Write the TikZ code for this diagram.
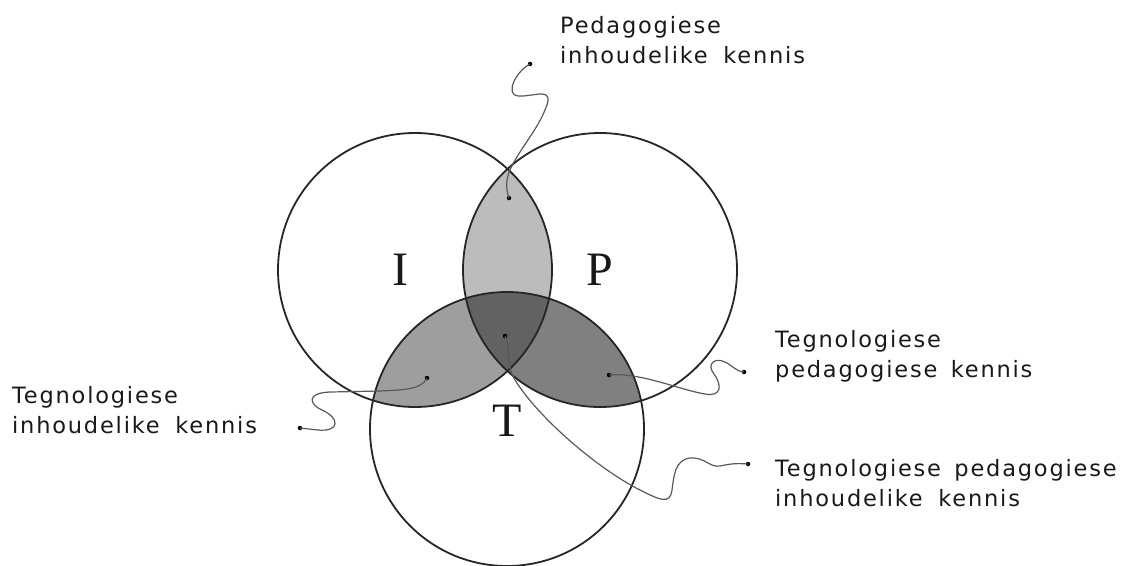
\documentclass[tikz,border=0pt]{standalone}
\usepackage{fontspec}
\newfontfamily\lblfont[LetterSpace=8]{DejaVu Sans}
\newfontfamily\bigfont{Liberation Serif}
\definecolor{fIP}{RGB}{188,188,188}
\definecolor{fIT}{RGB}{158,158,158}
\definecolor{fPT}{RGB}{128,128,128}
\definecolor{fIPT}{RGB}{98,98,98}
\begin{document}
\begin{tikzpicture}[x=1pt,y=-1pt,
  ring/.style={draw=black!85, line width=1.8pt},
  lead/.style={draw=black!65, line width=1.2pt},
  tip/.style={circle, fill=black, inner sep=0pt, minimum size=4.5pt},
  lbl/.style={font=\lblfont\fontsize{22.5}{30}\selectfont, text=black!90, align=left, anchor=base west, inner sep=0pt},
  big/.style={font=\bigfont\fontsize{48}{48}\selectfont, text=black!90, inner sep=0pt}]
\useasboundingbox (0,0) rectangle (1127,565);
\coordinate (cI) at (415,270);
\coordinate (cP) at (600,270);
\coordinate (cT) at (507,429);
\def\R{137}
% shaded overlaps
\begin{scope}\clip (cI) circle (\R); \fill[fIP] (cP) circle (\R); \fill[fIT] (cT) circle (\R); \end{scope}
\begin{scope}\clip (cP) circle (\R); \fill[fPT] (cT) circle (\R); \end{scope}
\begin{scope}\clip (cI) circle (\R); \clip (cP) circle (\R); \fill[fIPT] (cT) circle (\R); \end{scope}
% circles
\draw[ring] (cI) circle (\R);
\draw[ring] (cP) circle (\R);
\draw[ring] (cT) circle (\R);
% letters
\node[big] (nI) at (400,270) {I};
\node[big] (nP) at (600,270) {P};
\node[big] (nT) at (507,421) {T};
% labels (base anchor = baseline of last line)
\node[lbl] (l1) at (560,63) {Pedagogiese\\inhoudelike\hspace{0.3em} kennis};
\node[lbl] (l2) at (12,433) {Tegnologiese\\inhoudelike\hspace{0.3em} kennis};
\node[lbl] (l3) at (775,377) {Tegnologiese\\pedagogiese\hspace{0.2em} kennis};
\node[lbl] (l4) at (775,506) {Tegnologiese\hspace{0.2em} pedagogiese\\inhoudelike\hspace{0.3em} kennis};
% end points
\node[tip] (d1) at (530,64) {};
\node[tip] (e1) at (509,198) {};
\node[tip] (d2) at (300,428) {};
\node[tip] (e2) at (427,378) {};
\node[tip] (d3) at (744,372) {};
\node[tip] (e3) at (609,375) {};
\node[tip] (d4) at (748,464) {};
\node[tip] (e4) at (505,336) {};
% leaders
\draw[lead] (d1.center) .. controls (515,72) and (505,95) .. (518,96)
  .. controls (535,97) and (556,85) .. (545,110)
  .. controls (535,135) and (510,160) .. (507,180)
  .. controls (506,190) and (508,195) .. (e1.center);
\draw[lead] (e2.center) .. controls (422,390) and (400,390) .. (380,391)
  -- (330,392) .. controls (305,393) and (310,405) .. (322,410)
  .. controls (340,418) and (340,432) .. (318,430) -- (d2.center);
\draw[lead] (e3.center) .. controls (640,372) and (680,390) .. (705,394)
  .. controls (722,397) and (722,385) .. (714,374)
  .. controls (706,364) and (715,357) .. (725,362)
  .. controls (733,366) and (737,372) .. (d3.center);
\draw[lead] (e4.center) .. controls (510,345) and (506,365) .. (515,380)
  .. controls (540,420) and (600,470) .. (640,490)
  .. controls (660,500) and (670,505) .. (672,490)
  .. controls (674,475) and (675,460) .. (690,458)
  .. controls (705,457) and (710,468) .. (720,466)
  .. controls (730,464) and (735,463) .. (d4.center);
\end{tikzpicture}
\end{document}
